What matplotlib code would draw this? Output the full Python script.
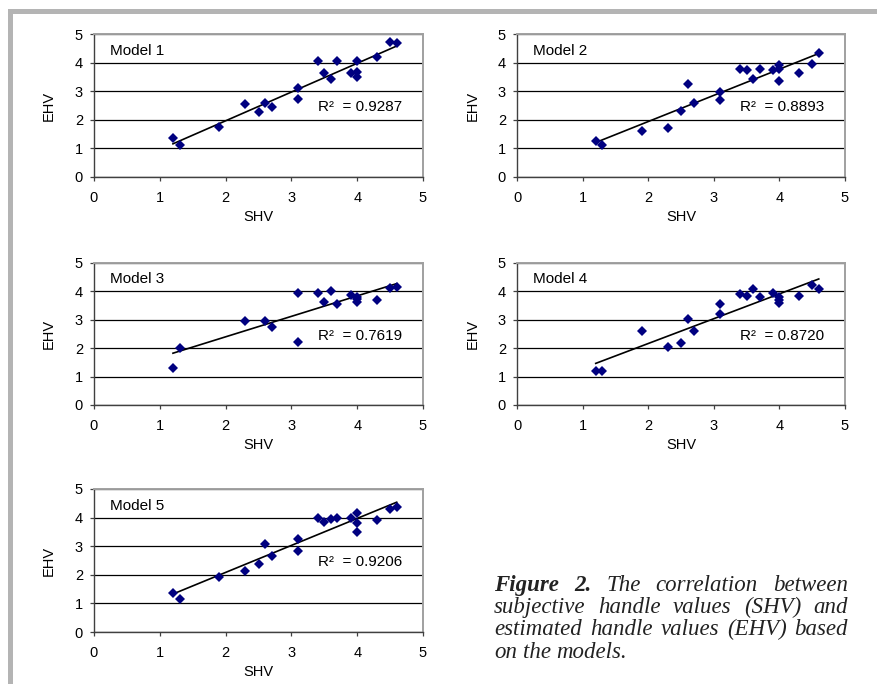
import numpy as np
import matplotlib
matplotlib.use("Agg")
import matplotlib.pyplot as plt
from matplotlib.patches import Rectangle

matplotlib.rcParams.update({
    "font.family": "Liberation Sans",
    "font.size": 10.5,
})

W, H = 877, 684

# subjective handle values (shared x for all models)
shv = [1.2, 1.3, 1.9, 2.3, 2.5, 2.6, 2.7, 3.1, 3.1, 3.4,
       3.5, 3.6, 3.7, 3.9, 4.0, 4.0, 4.0, 4.3, 4.5, 4.6]

# estimated handle values (None = not visible)
ehv_m1 = [1.38, 1.11, 1.75, 2.55, 2.28, 2.60, 2.46, 3.10, 2.73, 4.04,
          3.65, 3.42, 4.04, 3.65, 4.04, 3.68, 3.51, 4.21, 4.73, 4.70]
ehv_m2 = [1.27, 1.12, 1.62, 1.72, 2.31, 3.25, 2.58, 2.98, 2.69, 3.78,
          3.74, 3.41, 3.76, 3.74, 3.92, 3.76, 3.35, 3.62, 3.96, 4.35]
ehv_m3 = [1.32, 1.99, None, 2.95, None, 2.97, 2.74, 3.94, 2.23, 3.96,
          3.64, 4.03, 3.56, 3.88, 3.80, 3.74, 3.62, 3.71, 4.13, 4.15]
ehv_m4 = [1.21, 1.21, 2.60, 2.05, 2.19, 3.02, 2.60, 3.55, 3.20, 3.90,
          3.83, 4.07, 3.81, 3.96, 3.81, 3.70, 3.58, 3.84, 4.24, 4.08]
ehv_m5 = [1.38, 1.14, 1.93, 2.14, 2.39, 3.07, 2.66, 3.24, 2.84, 3.97,
          3.86, 3.94, 3.97, 3.97, 4.15, 3.80, 3.50, 3.91, 4.29, 4.36]

model_names = ["Model 1", "Model 2", "Model 3", "Model 4", "Model 5"]
r2_labels = ["0.9287", "0.8893", "0.7619", "0.8720", "0.9206"]
ticks = [0, 1, 2, 3, 4, 5]

caption_lines = [
    "Figure 2. The correlation between",
    "subjective handle values (SHV) and",
    "estimated handle values (EHV) based",
    "on the models.",
]

# axes boxes in pixels: left, top, right, bottom
boxes = [(94, 34, 423, 177), (517, 34, 845, 177),
         (94, 263, 423, 405), (517, 263, 845, 405),
         (94, 489, 423, 632)]

fig = plt.figure(figsize=(W / 100, H / 100), dpi=100)
fig.patch.set_facecolor("white")

# grey frame (left and top bars)
fig.add_artist(Rectangle((7.5 / W, 0), 5.2 / W, (H - 9) / H,
                         transform=fig.transFigure, color="#b4b4b4", lw=0))
fig.add_artist(Rectangle((7.5 / W, 1 - 14 / H), (W - 7.5) / W, 5 / H,
                         transform=fig.transFigure, color="#b4b4b4", lw=0))

all_ehv = [ehv_m1, ehv_m2, ehv_m3, ehv_m4, ehv_m5]
for i, ehv in enumerate(all_ehv):
    l, t, r, b = boxes[i]
    ax = fig.add_axes([l / W, 1 - b / H, (r - l) / W, (b - t) / H])
    x = np.array([s for s, e in zip(shv, ehv) if e is not None])
    y = np.array([e for e in ehv if e is not None])

    k, c = np.polyfit(x, y, 1)
    xl = np.array([x.min(), x.max()])
    ax.plot(xl, k * xl + c, color="black", lw=1.2, zorder=3)
    ax.plot(x, y, "D", color="#000080", ms=5.4, mew=0, zorder=4)

    ax.set_xlim(0, 5); ax.set_ylim(0, 5)
    ax.set_xticks(ticks); ax.set_yticks(ticks)
    ax.set_axisbelow(True)
    ax.yaxis.grid(True, color="black", lw=0.9)
    for s in ["left", "bottom"]:
        ax.spines[s].set_color("#404040"); ax.spines[s].set_linewidth(1.0)
    for s in ["top", "right"]:
        ax.spines[s].set_color("#a0a0a0"); ax.spines[s].set_linewidth(1.4)
    ax.tick_params(direction="out", length=3, width=0.9, color="#404040",
                   labelsize=10.5)
    ax.tick_params(axis="x", pad=7)
    ax.tick_params(axis="y", pad=5)

    ax.set_xlabel("SHV", fontsize=10.5)
    ax.set_ylabel("EHV", fontsize=10.5)
    ax.xaxis.set_label_coords(0.5, -0.23)
    ax.yaxis.set_label_coords(-0.115, 0.5)

    ax.text(0.25, 4.28, model_names[i], fontsize=11, va="baseline")
    ax.text(3.4, 2.3, "R\u00b2  = " + r2_labels[i], fontsize=11,
            va="baseline")

# justified caption, built word by word
cap_left, cap_right = 494, 848
cap_base, cap_step, cap_size = 591, 22.2, 16.5
fig.canvas.draw()
rend = fig.canvas.get_renderer()
for i, line in enumerate(caption_lines):
    words = line.split()
    yb = 1 - (cap_base + i * cap_step) / H
    objs = []
    for j, w in enumerate(words):
        bold = (i == 0 and j < 2)
        objs.append(fig.text(0, yb, w, family="Liberation Serif",
                             style="italic", size=cap_size, va="baseline",
                             weight="bold" if bold else "normal",
                             color="#222222"))
    widths = [o.get_window_extent(rend).width for o in objs]
    if i < len(caption_lines) - 1:
        gap = (cap_right - cap_left - sum(widths)) / (len(words) - 1)
    else:
        gap = cap_size * 100 / 72 * 0.25
    xp = cap_left
    for o, wd in zip(objs, widths):
        o.set_x(xp / W)
        xp += wd + gap

fig.savefig("out.png", dpi=100, facecolor="white")
plt.close(fig)
